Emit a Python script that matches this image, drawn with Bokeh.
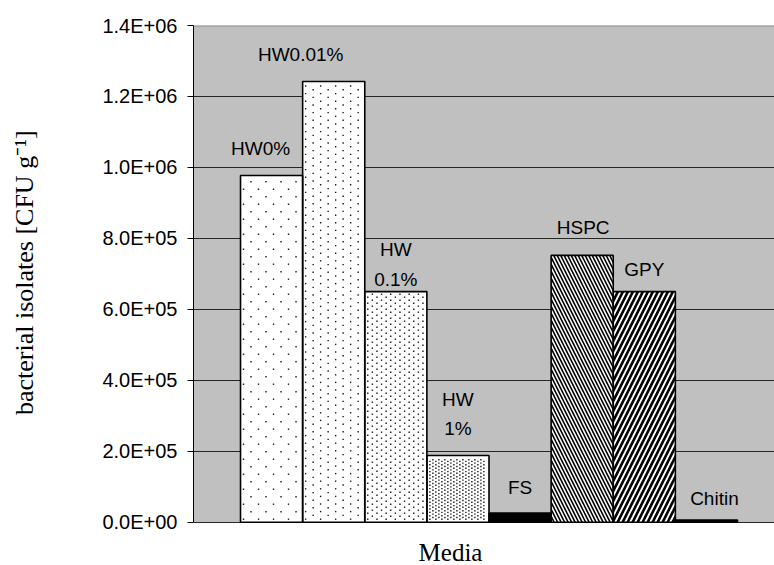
from bokeh.plotting import figure
from bokeh.models import (ColumnDataSource, Range1d, FixedTicker, Span, Label, BoxAnnotation,
                          CustomJSTickFormatter)
from bokeh.core.properties import value, field
from bokeh.embed import file_html
from bokeh.resources import INLINE
import numpy as np

# ---- data ----
media = ["HW0%", "HW0.01%", "HW0.1%", "HW1%", "FS", "HSPC", "GPY", "Chitin"]
bar_labels = ["HW0%", "HW0.01%", "HW\n0.1%", "HW\n1%", "FS", "HSPC", "GPY", "Chitin"]
cfu = [9.77e5, 1.242e6, 6.50e5, 1.88e5, 2.6e4, 7.52e5, 6.50e5, 6.0e3]
tick_values = [0, 2e5, 4e5, 6e5, 8e5, 1.0e6, 1.2e6, 1.4e6]
tick_labels = ["0.0E+00", "2.0E+05", "4.0E+05", "6.0E+05", "8.0E+05",
               "1.0E+06", "1.2E+06", "1.4E+06"]
y_title = "bacterial isolates [CFU g\u207b\u00b9]"
x_title = "Media"

# ---- styles ----
fills = ["white", "white", "white", "white", "black", "white", "white", "black"]
hatches = [" ", " ", " ", " ", " ", "\\", "/", " "]
hatch_scales = [4, 4, 4, 4, 4, 7, 10, 4]
hatch_weights = [1, 1, 1, 1, 1, 1.6, 2.6, 1]
# stipple texture (column step px, in-column period px) for the dotted bars
stipple = {0: (7.5, 15.0), 1: (7.5, 7.6), 2: (4.6, 6.0), 3: (3.0, 3.4)}
label_dx = [-11, -33, 0, 0, 0, 1, 0, 8]
label_dy = [-17, -17, -2, -16, -15, -17, -12, -11]

# layout (frame runs down to the bottom edge; the chart area is 0..1.4E+06)
W, H = 774, 565
B_LEFT, B_TOP = 193, 25
AXIS_BOTTOM_PX = 521.7          # where 0 sits, from the top of the picture
x0, x1 = -0.757, 8.596
y_top = tick_values[-1]
ppx_y = (AXIS_BOTTOM_PX - B_TOP) / y_top
y_bot = -(H - AXIS_BOTTOM_PX) / ppx_y
ppx_x = (W - B_LEFT) / (x1 - x0)

pos = np.arange(len(media)) + 0.5
src = ColumnDataSource(dict(x=pos, top=cfu, media=media, lab=bar_labels,
                            fill=fills, hatch=hatches, hs=hatch_scales, hw=hatch_weights,
                            dx=label_dx, dy=label_dy))

# dot texture points derived from each bar's extent
dxs, dys = [], []
for i, (cx, py) in stipple.items():
    w_px = ppx_x * 1.0
    h_px = cfu[i] * ppx_y
    xx, col = 3.0, 0
    while xx < w_px - 2.5:
        yy = 3.0 + (py / 2 if col % 2 else 0.0)
        while yy < h_px - 2.5:
            dxs.append(i + xx / ppx_x)
            dys.append(yy / ppx_y)
            yy += py
        xx += cx
        col += 1
dots = ColumnDataSource(dict(x=dxs, y=dys))

p = figure(width=W, height=H, output_backend="svg", toolbar_location=None,
           x_range=Range1d(x0, x1), y_range=Range1d(y_bot, y_top),
           min_border_left=B_LEFT, min_border_right=0, min_border_top=B_TOP,
           min_border_bottom=0)
p.background_fill_color = "white"
p.border_fill_color = "white"
p.outline_line_color = None
p.xaxis.visible = False

# grey chart area
p.add_layout(BoxAnnotation(bottom=0, top=y_top, fill_color="#C0C0C0", fill_alpha=1,
                           line_color=None, level="image"))

p.xgrid.visible = False
p.ygrid.ticker = FixedTicker(ticks=tick_values[:-1])
p.ygrid.grid_line_color = "#262626"
p.ygrid.grid_line_width = 1

p.add_layout(Span(location=y_top, dimension="width", line_color="#8c8c8c", line_width=2))

p.vbar(x="x", top="top", bottom=0, width=1, source=src,
       fill_color=field("fill"), line_color=None,
       hatch_pattern=field("hatch"), hatch_scale=field("hs"), hatch_weight=field("hw"),
       hatch_color="black")
p.scatter(x="x", y="y", source=dots, marker="square", size=1.4,
          fill_color="#1a1a1a", line_color=None)
p.vbar(x="x", top="top", bottom=0, width=1, source=src,
       fill_color=None, line_color="black", line_width=1.6)

p.text(x="x", y="top", text="lab", source=src, text_align="center", text_baseline="bottom",
       x_offset=field("dx"), y_offset=field("dy"),
       text_font=value("Liberation Sans"), text_font_size="19px", text_line_height=1.42,
       text_color="black")

# y axis
yax = p.yaxis[0]
yax.bounds = (0, y_top)
yax.ticker = FixedTicker(ticks=tick_values)
yax.formatter = CustomJSTickFormatter(args=dict(vals=tick_values, labs=tick_labels), code="""
const i = vals.findIndex(v => Math.abs(v - tick) < 1);
return i >= 0 ? labs[i] : '';
""")
yax.minor_tick_line_color = None
yax.major_tick_out = 6
yax.major_tick_in = 0
yax.major_tick_line_color = "black"
yax.axis_line_color = "black"
yax.major_label_standoff = 10
yax.major_label_text_font = "Liberation Sans"
yax.major_label_text_font_size = "20px"
yax.major_label_text_color = "black"
# leading no-break spaces lift the title so that it is centred on the chart area
yax.axis_label = "\u00a0" * 7 + y_title
yax.axis_label_text_font = "Liberation Serif"
yax.axis_label_text_font_size = "26px"
yax.axis_label_text_font_style = "normal"
yax.axis_label_text_color = "black"
yax.axis_label_standoff = 60

# x axis title below the chart area
p.add_layout(Label(x=450 - B_LEFT, y=H - 551.5, x_units="screen", y_units="screen", text=x_title,
                   text_align="center", text_baseline="middle",
                   text_font="Liberation Serif", text_font_size="25px", text_color="black"))

open("out.html", "w").write(file_html(p, INLINE))
